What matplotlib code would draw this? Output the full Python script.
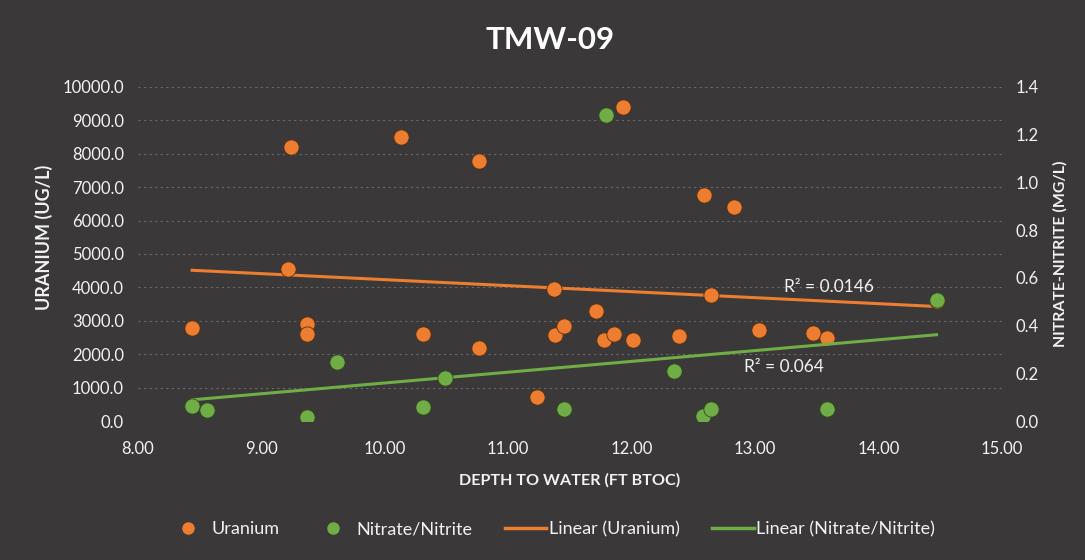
import matplotlib
matplotlib.use('Agg')
import matplotlib.pyplot as plt
import numpy as np
from matplotlib.lines import Line2D

plt.rcParams['font.family'] = ['Lato', 'DejaVu Sans']

# depth to water (ft btoc) and uranium (ug/l)
u_depth = [8.44, 9.24, 9.22, 9.37, 9.37, 10.13, 10.31, 10.76, 10.76, 11.23,
           11.37, 11.38, 11.45, 11.71, 11.78, 11.86, 11.93, 12.01, 12.38, 12.59,
           12.64, 12.83, 13.03, 13.47, 13.58, 14.47]
uranium = [2800, 8200, 4550, 2900, 2600, 8500, 2600, 7780, 2190, 720,
           3950, 2580, 2840, 3290, 2430, 2600, 9400, 2430, 2550, 6770,
           3770, 6410, 2730, 2640, 2490, 3600]

# depth to water and nitrate/nitrite (mg/l)
n_depth = [8.44, 8.56, 9.37, 9.61, 10.31, 10.49, 11.45, 11.79, 12.34, 12.58,
           12.64, 13.58, 14.47]
nitrate = [0.063, 0.046, 0.017, 0.247, 0.059, 0.180, 0.050, 1.283, 0.210, 0.021,
           0.050, 0.050, 0.507]

r2_uranium = 'R\u00b2 = 0.0146'
r2_nitrate = 'R\u00b2 = 0.064'

orange = '#ED7D31'
green = '#70AD47'
bg = '#3a3838'
txt = '#f2f2f2'

fig = plt.figure(figsize=(10.85, 5.6), dpi=100)
fig.patch.set_facecolor(bg)
ax = fig.add_axes([0.127, 0.248, 0.7965, 0.597])
ax.set_facecolor(bg)
ax2 = ax.twinx()
ax2.patch.set_visible(False)

ax.set_xlim(8, 15)
ax.set_ylim(0, 10000)
ax2.set_ylim(0, 1.4)
ax.set_xticks(np.arange(8, 15.01, 1))
ax.set_yticks(np.arange(0, 10001, 1000))
ax2.set_yticks(np.arange(0, 1.41, 0.2))
ax.xaxis.set_major_formatter(matplotlib.ticker.FormatStrFormatter('%.2f'))
ax.yaxis.set_major_formatter(matplotlib.ticker.FormatStrFormatter('%.1f'))
ax2.yaxis.set_major_formatter(matplotlib.ticker.FormatStrFormatter('%.1f'))

for a in (ax, ax2):
    for s in a.spines.values():
        s.set_visible(False)
    a.tick_params(length=0, labelsize=12, colors=txt)
ax.tick_params(axis='x', pad=14)
ax.tick_params(axis='y', pad=10)
ax2.tick_params(axis='y', pad=10)

ax.grid(axis='y', color='#8a8a8a', linestyle=(0, (2, 3)), linewidth=0.8, alpha=0.6)
ax.set_axisbelow(True)

ax.scatter(u_depth, uranium, s=120, color=orange, edgecolor='#5a3010', linewidth=0.6, zorder=3)
ax2.scatter(n_depth, nitrate, s=120, color=green, edgecolor='#2f4a1e', linewidth=0.6, zorder=3)

# linear trendlines
ux = np.array([min(u_depth), max(u_depth)])
pu = np.polyfit(u_depth, uranium, 1)
ax.plot(ux, np.polyval(pu, ux), color=orange, linewidth=2.2, zorder=2)
nx = np.array([min(n_depth), max(n_depth)])
pn = np.polyfit(n_depth, nitrate, 1)
ax2.plot(nx, np.polyval(pn, nx), color=green, linewidth=2.2, zorder=2)

ax.text(13.6, 4000, r2_uranium, color=txt, fontsize=12.5, ha='center', va='center')
ax.text(13.23, 1620, r2_nitrate, color=txt, fontsize=12.5, ha='center', va='center')

fig.text(0.507, 0.928, 'TMW-09', color='white', fontsize=22.5, fontweight='bold', ha='center', va='center')
ax.set_xlabel('DEPTH TO WATER (FT BTOC)', color=txt, fontsize=11.6, fontweight='bold', labelpad=12)
ax.set_ylabel('URANIUM (UG/L)', color=txt, fontsize=13, fontweight='bold')
ax.yaxis.set_label_coords(-0.098, 0.55)
ax2.set_ylabel('NITRATE-NITRITE (MG/L)', color=txt, fontsize=11.4, fontweight='bold', labelpad=10)

handles = [
    Line2D([], [], marker='o', linestyle='none', color=orange, markersize=8),
    Line2D([], [], marker='o', linestyle='none', color=green, markersize=8),
    Line2D([], [], color=orange, linewidth=2.5),
    Line2D([], [], color=green, linewidth=2.5),
]
labels = ['Uranium', 'Nitrate/Nitrite', 'Linear (Uranium)', 'Linear (Nitrate/Nitrite)']
fig.legend(handles, labels, loc='center', bbox_to_anchor=(0.508, 0.055), ncol=4, frameon=False,
           fontsize=13, labelcolor=txt, handlelength=2.3, columnspacing=1.8, handletextpad=0.15)

fig.savefig('out.png', dpi=100, facecolor=bg)
